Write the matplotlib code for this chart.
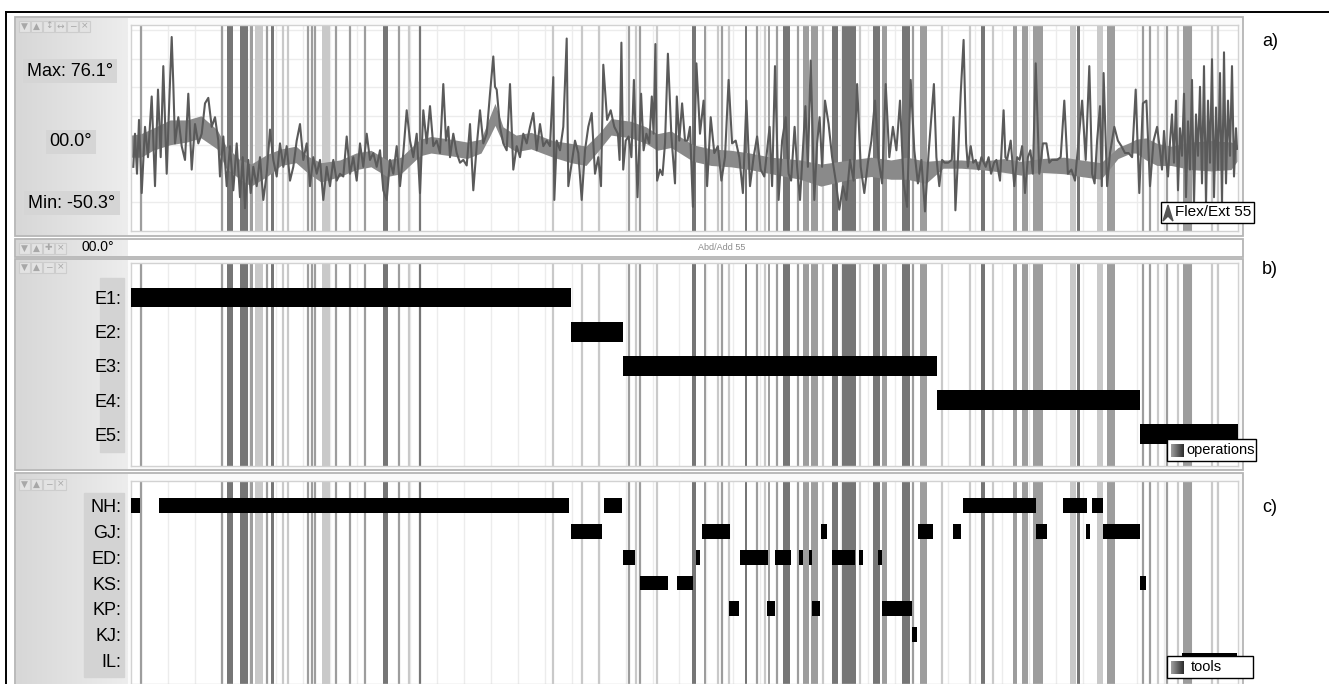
import numpy as np
import matplotlib.pyplot as plt
from matplotlib.patches import Rectangle, Polygon
from matplotlib.colors import LinearSegmentedColormap

plt.rcParams['font.family'] = ['Liberation Sans', 'DejaVu Sans']

W, H = 1329, 684
duration = 1107  # s

# Flex/Ext 55 joint angle, seconds / degrees
flex_t = [2.3, 4, 6, 8, 10.7, 14, 17, 20.7, 24, 27, 29.7, 32.3, 35.7, 38.3, 40.7, 42.3, 44, 47.3, 50.7, 54,
          57.3, 60.7, 64, 67.3, 70.7, 74, 77.3, 80.7, 84, 87.3, 89, 92.3, 95.7, 99, 102.3, 105.7, 109, 111.7,
          114, 117.3, 119.7, 122.3, 125.7, 129, 132.3, 135.7, 139, 142.3, 145.7, 149, 152.3, 155.7, 159, 162.3,
          165.7, 169, 172.3, 175.7, 179, 182.3, 185.7, 189, 192.3, 195.7, 199, 202.3, 205.7, 209, 212.3, 215.7,
          219, 222.3, 225.7, 229, 232.3, 235.7, 239, 242.3, 245.7, 249, 252.3, 255.7, 259, 262.3, 265.7, 269,
          272.3, 275.7, 279, 282.3, 285.7, 289, 292.3, 295.7, 299, 302.3, 305.7, 309, 312.3, 315, 317.3, 319,
          322.3, 325.7, 329, 332.3, 335.7, 339, 342.3, 345.7, 349, 352.3, 355.7, 359, 362.3, 364, 365.7, 369,
          372.3, 375.7, 379, 382.3, 385.7, 389, 392.3, 395.7, 399, 402.3, 405.7, 409, 412.3, 415.7, 419, 422.3,
          423.3, 425.7, 429, 432.3, 435.7, 437.3, 440.7, 444, 447.3, 450.7, 454, 457.3, 460.7, 464, 467.3, 470,
          472.3, 476.1, 479.7, 483.3, 486.9, 488.6, 490.4, 492.2, 494.7, 497.6, 500.4, 502.9, 506.5, 510.1,
          512.6, 515.4, 518.3, 520.8, 522.6, 524.4, 526.1, 529, 531.5, 534, 536.9, 540.4, 544, 545.8, 548.3,
          551.1, 554, 556.5, 559, 561.9, 565.4, 569, 572.6, 576.1, 579.7, 583.3, 586.9, 590.4, 594, 597.6,
          601.1, 604.7, 608.3, 611.9, 615.4, 619, 622.6, 626.1, 629.7, 633.3, 638.6, 641.1, 644, 647.6, 651.1,
          654.7, 657.6, 660.1, 663.6, 666.1, 669, 674.4, 676.9, 679.7, 683.3, 686.1, 688.6, 691.1, 694, 697.6,
          701.1, 704.7, 708.3, 711.9, 715.4, 719, 722.6, 726.1, 729.7, 733.3, 736.9, 740.4, 744, 747.6, 751.1,
          754.7, 758.3, 761.9, 765.4, 769, 772.6, 776.1, 779.7, 783.3, 786.9, 790.4, 794, 797.6, 802.9, 805.4,
          808.3, 811.1, 813.6, 817.2, 820.8, 822.6, 824.4, 826.9, 829.7, 832.6, 835.1, 836.9, 839.7, 842.2,
          844.7, 847.6, 850.4, 854.7, 857.6, 860.1, 863, 865.4, 869, 872.6, 874.4, 876.1, 879.7, 883.3, 886.1,
          888.6, 891.1, 894, 896.9, 899.4, 901.9, 904.7, 908.3, 911.9, 915.4, 918.3, 920.8, 926.1, 929.7,
          933.3, 936.9, 940.4, 944, 947.6, 951.1, 954.7, 958.3, 961.1, 963.6, 966.1, 969, 970.8, 972.6, 976.1,
          979, 983.3, 986.9, 990.4, 994, 997.6, 1001.1, 1004.7, 1008.3, 1011.9, 1015.4, 1019, 1022.6, 1026.1,
          1029, 1031, 1033, 1035, 1037, 1039, 1041, 1043, 1045, 1047, 1049, 1051, 1053, 1055, 1057, 1059, 1061,
          1063, 1065, 1067, 1069, 1071, 1073, 1075, 1077, 1079, 1081, 1083, 1085, 1087, 1089, 1091, 1093, 1095,
          1097, 1099, 1101, 1103, 1105, 1106]
flex_deg = [-18, 6, -23, 16, -37, 11, -11, 33, -32, 38, -11, 55, -23, 30, 76.1, 42, -1, 18, -3, -13,
            35, -20, 13, -1, 6, 28, 32, 11, 18, 1, -25, 4, -32, -3, -35, -1, -40, -11,
            -48, -13, -37, -18, -32, -11, -42, -23, 9, -13, -25, -1, -18, -3, -28, -18,
            1, 13, -13, -1, -32, -11, -23, -13, -42, -18, -32, -13, -28, -23, -25, 4,
            -23, -11, -28, -1, -18, 6, -13, -8, -18, -6, -35, -42, -13, -23, -3, -32,
            -8, 23, 1, -11, 6, -37, 23, -1, 26, -3, 1, -8, 42, 1, 11, -11,
            6, -8, -15, -13, -17, 13, -35, -3, 23, -1, 6, 35, 62, 40, 38, 11,
            -1, -6, 42, -20, -3, -11, 6, -1, 11, 21, -6, 13, -3, 1, -3, 47,
            -42, 1, -6, 11, 75, -32, -15, 1, -8, -42, -6, 11, 21, -23, -11, -32,
            56, 16, 23, 11, 6, -13, 72, -20, 1, 4, -11, 45, -40, 35,
            -6, 6, -1, 33, 6, 71, -28, -20, -24, -1, 64, 4, -30, 33, 1,
            28, 1, 1, 11, -47, 57, 6, 30, -32, 18, -8, -3, -28, -11, 45,
            -1, 1, -11, -37, 30, -32, -11, 4, -20, -25, 11, -32, 55, -42, 1,
            18, -23, -28, 11, -18, -42, 26, -18, 59, -42, -1, 18, -18, 30, 13,
            -11, -28, -49, -32, -42, -13, -28, 42, -18, -37, -15, 1, 30, -13, -30,
            42, -11, 11, -6, 30, -30, -47, 45, -6, -30, -13, -50.3, -8, 42, -11,
            -32, -13, -15, -15, -13, 18, -49.5, -13, 35, 74, -1, -18, -3, -15,
            -13, -20, -11, -18, -11, -23, -15, -13, -28, 23, -11, -13, 1, -32, -11,
            -13, -3, -37, -11, -6, -23, 57, -23, -1, -1, -15, -13, -13, -11,
            30, -23, -20, -28, 1, 30, -13, 55, -23, -30, 1, 26, -32, 50, -32,
            -8, 11, 1, -3, -8, -8, -11, 38, -37, 28, 30, -32, 1, 11,
            -6, -20, 8, -12, -25, 0, 20, -15, 30, -35, 10, -10, 35, -40, 15, -20, 45,
            -45, 20, -10, 40, -30, 55, -45, 30, -15, 60, -40, 25, -20, 50, -45, 65, -30,
            30, -10, 55, -25, 10, -5]

# dense core of the angle trace (upper / lower edge, degrees)
core_t = [0, 10, 22, 39, 56, 70, 86, 95, 109, 120, 136, 150, 165, 176, 190, 209, 225, 240, 256, 270,
          289, 300, 320, 336, 350, 358, 364, 372, 385, 400, 422, 440, 455, 469, 480, 500, 515, 526, 540,
          562, 580, 600, 619, 640, 669, 690, 719, 740, 760, 776, 795, 812, 830, 850, 873, 890, 910, 933,
          950, 970, 987, 1000, 1005, 1015, 1026, 1040, 1060, 1080, 1100, 1106]
core_hi = [5, 6, 10, 16, 16, 19, 9, -3, -13, -16, -9, -5, -3, -10, -15, -13, -8, -6, -13, -11,
           2, 4, 2, 0, 2, 17, 28, 11, 5, 7, 1, -1, -3, 7, 17, 15, 11, 6, 8,
           -2, -5, -6, -8, -11, -13, -16, -13, -11, -13, -11, -14, -13, -13, -14, -12, -14, -12, -11,
           -13, -15, -4, 0, 2, 3, -1, -3, 0, 1, 0, -2]
core_lo = [-11, -11, -6, -2, 0, 3, -5, -19, -27, -32, -25, -17, -15, -22, -29, -25, -20, -18, -25, -23,
           -10, -8, -10, -12, -8, 3, 12, -1, -7, -5, -11, -15, -17, -5, 5, 3, -1, -6, -4,
           -14, -17, -18, -20, -23, -27, -32, -27, -25, -27, -27, -30, -19, -19, -20, -22, -24, -22, -23,
           -25, -27, -12, -8, -8, -13, -17, -17, -20, -21, -20, -14]

# annotated events (s) and shade: 0 light, 1 medium, 2 dark
ev_start = [10, 91, 96, 109, 119, 124, 136, 140, 152, 157, 177, 181, 184, 191, 205, 219, 234, 252, 268, 278,
            289, 422, 451, 468, 498, 505, 509, 526, 561, 573, 587, 591, 598, 614, 626, 634, 637, 646, 652, 667,
            672, 680, 692, 701, 711, 729, 742, 751, 771, 782, 789, 811, 839, 850, 862, 882, 891, 902, 939, 946,
            966, 976, 1012, 1019, 1027, 1036, 1047, 1052, 1081, 1087]
ev_end = [10, 91, 102, 117, 122, 132, 136, 143, 152, 157, 177, 181, 184, 199, 205, 219, 234, 257, 268, 278,
          289, 422, 451, 468, 498, 505, 509, 526, 565, 575, 587, 591, 598, 616, 626, 634, 639, 646, 659, 667,
          678, 687, 692, 707, 725, 729, 749, 756, 779, 782, 796, 811, 839, 854, 862, 886, 897, 912, 945, 949,
          972, 984, 1012, 1019, 1027, 1036, 1047, 1061, 1081, 1087]
ev_shade = [1, 1, 2, 2, 1, 0, 1, 2, 0, 0, 1, 1, 1, 0, 1, 1, 1, 2, 1, 0,
            2, 0, 0, 0, 1, 0, 1, 0, 2, 1, 0, 1, 0, 2, 1, 0, 1, 1, 2, 1,
            1, 1, 0, 2, 2, 0, 2, 1, 2, 1, 1, 0, 0, 2, 0, 1, 1, 1, 0, 2,
            0, 1, 1, 1, 0, 1, 0, 1, 0, 0]

op_labels = ['E1:', 'E2:', 'E3:', 'E4:', 'E5:']
op_start = [0, 440, 492, 806, 1009]
op_end = [440, 492, 806, 1009, 1107]

tool_labels = ['NH:', 'GJ:', 'ED:', 'KS:', 'KP:', 'KJ:', 'IL:']
nh = [(0, 9), (28, 438), (473, 491), (832, 905), (932, 956), (961, 972)]
gj = [(440, 471), (571, 599), (690, 696), (787, 802), (822, 830), (905, 916), (955, 959), (972, 1009)]
ed = [(492, 504), (565, 569), (609, 637), (644, 660), (668, 672), (678, 681), (701, 724), (728, 732), (747, 751)]
ks = [(509, 537), (546, 562), (1009, 1015)]
kp = [(598, 608), (636, 644), (681, 689), (751, 781)]
kj = [(781, 786)]
il = [(1051, 1106)]
tool_spans = [nh, gj, ed, ks, kp, kj, il]

shade_col = ['#c9c9c9', '#9d9d9d', '#767676']


def px_axes(x0, y0, x1, y1, **kw):
    return fig.add_axes([x0 / W, 1 - y1 / H, (x1 - x0) / W, (y1 - y0) / H], **kw)


def draw_events(ax):
    for s, e, k in zip(ev_start, ev_end, ev_shade):
        if e - s < 1.5:
            ax.axvline(s, color=shade_col[k], lw=1.6, zorder=1)
        else:
            ax.axvspan(s, e, color=shade_col[k], lw=0, zorder=1)


def style_plot(ax):
    ax.set_xlim(0, duration)
    ax.set_xticks(np.arange(10.4, duration, 26.9))
    ax.grid(axis='x', color='#ececec', lw=1, zorder=0)
    ax.tick_params(axis='x', length=0, labelbottom=False)
    for sp in ax.spines.values():
        sp.set_color('#d2d2d2')
        sp.set_linewidth(1)
    ax.set_axisbelow(True)


fig = plt.figure(figsize=(W / 100, H / 100), dpi=100)

# window chrome in pixel coordinates
bg = fig.add_axes([0, 0, 1, 1], zorder=0)
bg.axis('off')

side_cmap = LinearSegmentedColormap.from_list('side', ['#d7d7d7', '#ededed'])
grad = np.linspace(0, 1, 64)[None, :]

bg.plot([6, W], [12, 12], color='black', lw=1.4)
bg.plot([6, 6], [12, H], color='black', lw=1.4)

for y0, y1 in [(17, 236), (239, 257), (259, 470), (473, H + 5)]:
    bg.add_patch(Rectangle((15, y0), 1228, y1 - y0, facecolor='#fafafa', edgecolor='#b5b5b5', lw=1.3))
    bg.imshow(grad, cmap=side_cmap, extent=(16, 128, y1 - 1, y0 + 1), aspect='auto', zorder=2)
bg.add_patch(Rectangle((128, 240), 1114, 16, facecolor='white', edgecolor='none', zorder=2))

# label column backgrounds
bg.add_patch(Rectangle((100, 278), 24, 174, color='#d3d3d3', zorder=3))
bg.add_patch(Rectangle((84, 493), 40, 184, color='#d3d3d3', zorder=3))


def icons(y, glyphs):
    for i, g in enumerate(glyphs):
        x = 19 + i * 12
        bg.add_patch(Rectangle((x, y - 5.5), 11, 11, facecolor='#e3e3e3', edgecolor='#cdcdcd', lw=0.8, zorder=4))
        bg.text(x + 5.5, y, g, fontsize=6.5, color='#a8a8a8', ha='center', va='center', zorder=5,
                family=['DejaVu Sans'])


icons(26, ['▼', '▲', '↕', '↔', '−', '×'])
icons(248, ['▼', '▲', '✚', '×'])
icons(267, ['▼', '▲', '−', '×'])
icons(484, ['▼', '▲', '−', '×'])
bg.text(82, 247, '00.0°', fontsize=10, va='center', ha='left', zorder=5)
bg.text(722, 247.5, 'Abd/Add 55', fontsize=6.5, color='#8c8c8c', va='center', ha='center', zorder=5)

# angle readouts
deg_max = max(flex_deg)
deg_min = min(flex_deg)
box_kw = dict(boxstyle='square,pad=0.22', facecolor='#d5d5d5', edgecolor='none')
bg.text(70, 71, f'Max: {deg_max:.1f}°', fontsize=13, ha='center', va='center', bbox=box_kw, zorder=5)
bg.text(71, 142, f'{0:04.1f}°', fontsize=13, ha='center', va='center', bbox=box_kw, zorder=5)
bg.text(72, 203, f'Min: {deg_min:.1f}°', fontsize=13, ha='center', va='center', bbox=box_kw, zorder=5)

for lab, y in [('a)', 42), ('b)', 270), ('c)', 508)]:
    bg.text(1262, y, lab, fontsize=13, ha='left', va='center')
bg.set_xlim(0, W)
bg.set_ylim(H, 0)

# a) joint angle
ax_a = px_axes(131, 25, 1238, 231, zorder=1)
style_plot(ax_a)
ax_a.set_ylim(-64.5, 84.8)
ax_a.set_yticks(np.arange(-43.5, 84, 20.8))
ax_a.grid(axis='y', color='#ececec', lw=1, zorder=0)
ax_a.tick_params(axis='y', length=0, labelleft=False)
draw_events(ax_a)
ax_a.fill_between(core_t, core_lo, core_hi, color='#8a8a8a', lw=0, zorder=2)
ax_a.plot(flex_t, flex_deg, color='#5a5a5a', lw=1.5, zorder=3)

# b) operations
ax_b = px_axes(131, 263, 1238, 466, zorder=1)
style_plot(ax_b)
draw_events(ax_b)
ax_b.barh(range(len(op_labels)), np.subtract(op_end, op_start), left=op_start, height=0.58,
          color='black', zorder=3)
ax_b.set_ylim(4.93, -1.01)
ax_b.set_yticks(range(len(op_labels)), op_labels)
ax_b.tick_params(axis='y', length=0, pad=7, labelsize=13)

# c) tools
ax_c = px_axes(131, 481, 1238, 684, zorder=1)
style_plot(ax_c)
draw_events(ax_c)
for row, spans in enumerate(tool_spans):
    for s, e in spans:
        ax_c.barh(row, e - s, left=s, height=0.58, color='black', zorder=3)
ax_c.set_ylim(6.93, -0.97)
ax_c.set_yticks(range(len(tool_labels)), tool_labels)
ax_c.tick_params(axis='y', length=0, pad=7, labelsize=13)

# series keys
fg = fig.add_axes([0, 0, 1, 1], zorder=5)
fg.axis('off')
key_cmap = LinearSegmentedColormap.from_list('key', ['#a0a0a0', '#2c2c2c'])

fg.add_patch(Rectangle((1161, 202), 93, 21, facecolor='white', edgecolor='black', lw=1, zorder=2))
fg.add_patch(Polygon([(1163, 221), (1168, 205), (1173, 221), (1168, 216)], color='#555555', zorder=3))
fg.text(1175, 212.5, 'Flex/Ext 55', fontsize=11, va='center', ha='left', zorder=3)

for y0, wd, tx, name in [(439, 89, 1186, 'operations'), (656, 86, 1191, 'tools')]:
    fg.add_patch(Rectangle((1167, y0), wd, 22, facecolor='white', edgecolor='black', lw=1, zorder=2))
    fg.imshow(grad, cmap=key_cmap, extent=(1171, 1184, y0 + 18, y0 + 5), aspect='auto', zorder=3)
    fg.text(tx, y0 + 11, name, fontsize=10.5, va='center', ha='left', zorder=3)
fg.set_xlim(0, W)
fg.set_ylim(H, 0)

fig.savefig('out.png', dpi=100)
